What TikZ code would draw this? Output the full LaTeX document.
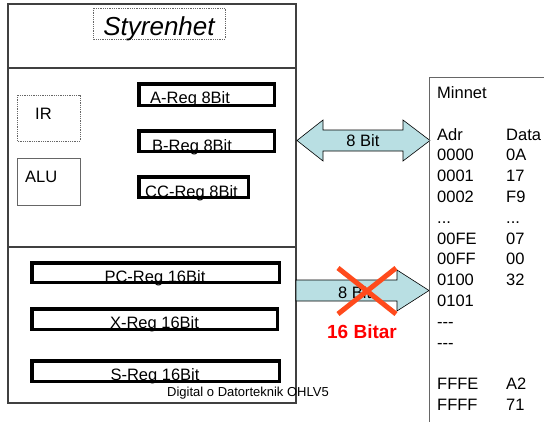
\documentclass[tikz,border=0pt]{standalone}
\usepackage{fontspec}
\setmainfont{Liberation Sans}
\usepackage{tikz}
\usetikzlibrary{positioning,calc}
\definecolor{Bus}{HTML}{B9DFE3}
\definecolor{Cross}{HTML}{FF4A1C}
\definecolor{Frame}{HTML}{404040}
\newcommand{\memdots}{...}
\newcommand{\memdash}{-{}-{}-}

\begin{document}
\begin{tikzpicture}[x=1pt,y=-1pt,every node/.style={inner sep=0pt},
  reg/.style={draw,line width=3.5pt},
  txt/.style={anchor=base west,font=\fontsize{16.5}{20}\selectfont},
  thin/.style={draw=black!60,line width=0.8pt}]
\useasboundingbox (0,0) rectangle (544,421);
% processor
\draw[Frame,line width=1.2pt] (8,4) rectangle (296,403);
\draw[Frame,line width=1.6pt] (8,68)--(296,68);
\draw[Frame,line width=1.6pt] (8,247)--(296,247);
\draw[thin,densely dotted] (93,8) rectangle (225,39);
\node[anchor=base,font=\fontsize{26}{30}\selectfont\itshape] (styr) at (159,35.5) {Styrenhet};
% IR and ALU
\draw[thin,densely dotted] (17,95) rectangle (80,141);
\node[txt] (ir) at (35,119) {IR};
\draw[thin] (17,158) rectangle (80,205);
\node[txt] (alu) at (25,182) {ALU};
% 8 bit registers
\draw[reg] (138.75,83.75) rectangle (274.25,105.25);
\node[txt] (areg) at (150,103.5) {A-Reg 8Bit};
\draw[reg] (138.75,130.75) rectangle (274.25,151.25);
\node[txt] (breg) at (152,151) {B-Reg 8Bit};
\draw[reg] (138.75,176.75) rectangle (248.25,197.25);
\node[txt] (ccreg) at (145,197) {CC-Reg 8Bit};
% 16 bit registers
\draw[reg] (31.75,262.75) rectangle (279.25,282.25);
\node[txt,anchor=base] (pcreg) at (155,282) {PC-Reg 16Bit};
\draw[reg] (31.75,308.75) rectangle (277.25,329.25);
\node[txt,anchor=base] (xreg) at (154.5,328) {X-Reg 16Bit};
\draw[reg] (31.75,360.75) rectangle (279.25,381.25);
\node[txt,anchor=base] (sreg) at (155,380) {S-Reg 16Bit};
\node[anchor=base west,font=\fontsize{13}{15}\selectfont] (foot) at (167,396) {Digital o Datorteknik OHLV5};
% buses
\draw[fill=Bus,line width=0.6pt] (297,140.5)--(323,120)--(323,130)--(403,130)--(403,120)--(430,140.5)
  --(403,161)--(403,151)--(323,151)--(323,161)--cycle;
\node[txt,anchor=base] (dbus) at (363,146) {8 Bit};
\draw[fill=Bus,line width=0.6pt] (296,280)--(397,280)--(397,270)--(429,290.5)--(397,311)--(397,301)
  --(296,301)--cycle;
\node[txt] (abus) at (338,298) {8 Bit};
\draw[Cross,line width=5pt] (338,268)--(396,314) (396,268)--(338,314);
\node[anchor=base,text=red,font=\fontsize{19}{22}\selectfont\bfseries] (bitar) at (362,338) {16 Bitar};
% memory
\draw[black!60,line width=1pt] (545,77)--(429,77)--(429,422);
\node[txt] (minnet) at (437,98.4) {Minnet};
\foreach \adr/\dat [count=\i from 0] in {Adr/Data,0000/0A,0001/17,0002/F9,\memdots/\memdots,00FE/07,00FF/00,
  0100/32,0101/{},\memdash/{},\memdash/{},{}/{},FFFE/A2,FFFF/71}{
  \node[txt] (adr\i) at (437,140+20.8*\i) {\adr};
  \node[txt] (dat\i) at (506,140+20.8*\i) {\dat};
}
\end{tikzpicture}
\end{document}
